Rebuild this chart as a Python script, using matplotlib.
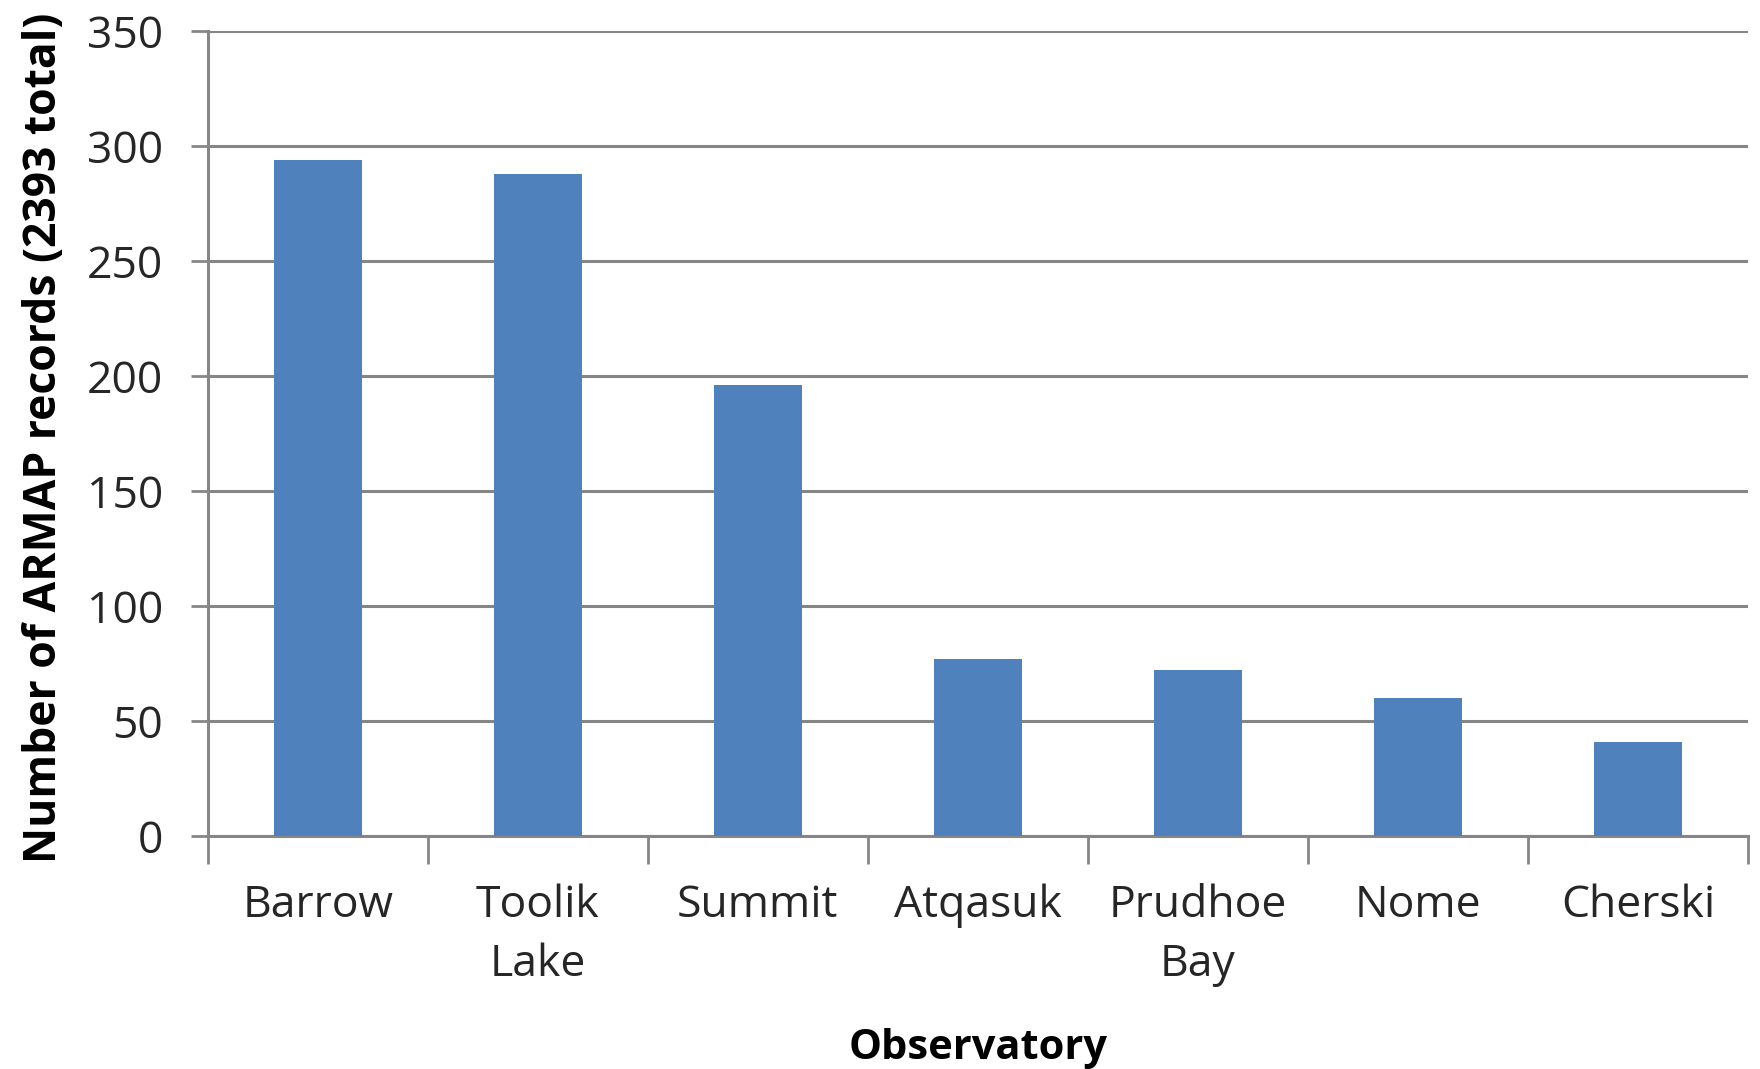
import matplotlib
matplotlib.use("Agg")
import matplotlib.pyplot as plt
from matplotlib.ticker import FixedLocator
import numpy as np

categories = ["Barrow", "Toolik\nLake", "Summit", "Atqasuk", "Prudhoe\nBay", "Nome", "Cherski"]
records = [294, 288, 196, 77, 72, 60, 41]
y_ticks = [0, 50, 100, 150, 200, 250, 300, 350]

plt.rcParams['font.family'] = ['Open Sans', 'DejaVu Sans']

fig = plt.figure(figsize=(17.6, 10.69), dpi=100)
ax = fig.add_axes([0.118, 0.218, 0.8752, 0.753])

x = np.arange(len(categories))
ax.bar(x, records, width=0.4, color="#4F81BD", zorder=3)

grid_c = "#868686"
ax.set_xlim(-0.5, len(categories) - 0.5)
ax.set_ylim(0, 350)
ax.set_yticks(y_ticks)
ax.set_yticklabels([str(v) for v in y_ticks])
ax.yaxis.grid(True, color=grid_c, linewidth=2.2, zorder=0)
ax.set_axisbelow(True)

ax.set_xticks(x)
ax.set_xticklabels(categories, linespacing=1.45)
ax.xaxis.set_minor_locator(FixedLocator(np.arange(-0.5, len(categories), 1.0)))
ax.tick_params(axis='x', which='major', length=0, pad=34, labelsize=32, labelcolor="#262626")
ax.tick_params(axis='x', which='minor', length=20, width=2, color=grid_c)
ax.tick_params(axis='y', length=12, width=2, color=grid_c, pad=20, labelsize=32, labelcolor="#262626")

for s in ["top", "right"]:
    ax.spines[s].set_visible(False)
for s in ["left", "bottom"]:
    ax.spines[s].set_color(grid_c)
    ax.spines[s].set_linewidth(2.2)

ax.set_ylabel("Number of ARMAP records (2393 total)", fontsize=32, fontweight="bold", color="black")
ax.set_xlabel("Observatory", fontsize=30, fontweight="bold", color="black")
ax.yaxis.set_label_coords(-0.0915, 0.494)
ax.xaxis.set_label_coords(0.5, -0.239)

fig.savefig("out.png", dpi=100, facecolor="white")
